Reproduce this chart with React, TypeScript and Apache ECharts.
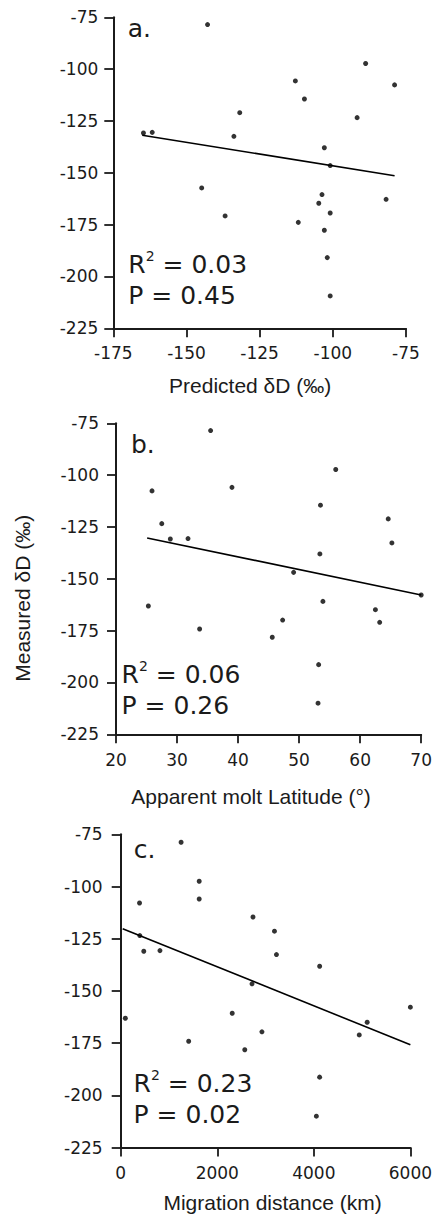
import React, { useEffect, useRef } from "react";
import * as echarts from "echarts";

// Panel a: predicted vs measured δD
const predictedDD = [-142.8, -88.8, -78.9, -112.8, -109.7, -131.8, -91.7, -164.7, -161.7, -133.8, -102.9, -100.9, -144.8, -103.7, -104.8, -81.8, -100.9, -136.8, -111.8, -102.9, -101.9, -100.9];
const measuredA = [-78.5, -97.3, -107.6, -105.7, -114.4, -121.0, -123.4, -130.8, -130.5, -132.4, -137.9, -146.5, -157.3, -160.5, -164.7, -162.8, -169.4, -170.8, -173.9, -177.7, -190.9, -209.4];
const fitA = [[-165.1, -131.9], [-78.9, -151.4]];

// Panel b: apparent molt latitude vs measured δD
const moltLatitude = [35.5, 56.0, 25.9, 39.0, 53.5, 64.6, 27.5, 28.9, 31.8, 65.2, 53.4, 49.1, 70.0, 25.3, 53.9, 62.5, 63.2, 47.3, 33.7, 45.6, 53.2, 53.1];
const measuredB = [-78.5, -97.3, -107.6, -105.9, -114.5, -121.1, -123.4, -130.8, -130.6, -132.7, -138.0, -146.9, -157.8, -163.1, -160.9, -164.9, -171.0, -169.9, -174.2, -178.2, -191.4, -210.0];
const fitB = [[25.1, -130.3], [70.0, -157.8]];

// Panel c: migration distance vs measured δD
const migrationKm = [1251, 1626, 1626, 390, 2740, 3185, 396, 478, 813, 3226, 4121, 2720, 6000, 96, 2310, 5105, 4941, 2925, 1408, 2570, 4121, 4053];
const measuredC = [-78.8, -97.5, -106.0, -107.9, -114.6, -121.4, -123.5, -131.0, -130.7, -132.6, -138.2, -146.6, -157.8, -163.1, -160.7, -165.0, -171.1, -169.6, -174.1, -178.2, -191.3, -210.0];
const fitC = [[41, -120.2], [6000, -175.8]];

const panelLetters = ["a.", "b.", "c."];
const r2Values = ["0.03", "0.06", "0.23"];
const pValues = ["0.45", "0.26", "0.02"];
const xNames = ["Predicted δD (‰)", "Apparent molt Latitude (°)", "Migration distance (km)"];
const yName = "Measured δD (‰)";
const xRanges = [[-175, -75, 25], [20, 70, 10], [0, 6000, 2000]];
const yRange = [-225, -75, 25];

const INK = "#1b1b1b";
const TICK_FONT = "DejaVu Sans";
const NAME_FONT = "Liberation Sans";

export default function App() {
  const ref = useRef<HTMLDivElement>(null);

  useEffect(() => {
    if (!ref.current) return;
    const chart = echarts.init(ref.current, null, { renderer: "svg" });

    const grids = [
      { left: 113.3, top: 17.3, width: 292.7, height: 311 },
      { left: 116, top: 423.3, width: 307.3, height: 311 },
      { left: 120.7, top: 834.3, width: 292.7, height: 313.4 },
    ];
    const xNameGap = [46.6, 51.2, 44.5];
    const xNamePad = [[0, 19, 0, 0], [0, 35, 0, 0], [0, 0, 0, 14]];
    const yLabelPad = [[4, 0, 0, 0], [0, 0, 0, 0], [5, 0, 0, 0]];
    const yLabelMargin = [15, 17, 18];
    const xLabelMargin = [16.5, 17.5, 16.5];

    const axisLine = { show: true, onZero: false, lineStyle: { color: INK, width: 2 } };
    const axisTick = { show: true, length: 9, lineStyle: { color: INK, width: 1.8 } };

    const xAxis = grids.map((_, i) => ({
      type: "value",
      gridIndex: i,
      min: xRanges[i][0],
      max: xRanges[i][1],
      interval: xRanges[i][2],
      axisLine,
      axisTick,
      splitLine: { show: false },
      axisLabel: {
        color: INK,
        fontFamily: TICK_FONT,
        fontSize: 17,
        margin: xLabelMargin[i],
        formatter: (v: number) => String(v),
      },
      name: xNames[i],
      nameLocation: "middle",
      nameGap: xNameGap[i],
      nameTextStyle: {
        color: INK,
        fontFamily: NAME_FONT,
        fontSize: 21,
        padding: xNamePad[i],
      },
    }));

    const yAxis = grids.map((_, i) => ({
      type: "value",
      gridIndex: i,
      min: yRange[0],
      max: yRange[1],
      interval: yRange[2],
      axisLine,
      axisTick,
      splitLine: { show: false },
      axisLabel: {
        color: INK,
        fontFamily: TICK_FONT,
        fontSize: 17,
        margin: yLabelMargin[i],
        padding: yLabelPad[i],
        formatter: (v: number) => String(v),
      },
      ...(i === 1
        ? {
            name: yName,
            nameLocation: "middle",
            nameGap: 83.3,
            nameTextStyle: {
              color: INK,
              fontFamily: NAME_FONT,
              fontSize: 21,
              padding: [0, 39, 0, 0],
            },
          }
        : {}),
    }));

    const xs = [predictedDD, moltLatitude, migrationKm];
    const ys = [measuredA, measuredB, measuredC];
    const fits = [fitA, fitB, fitC];

    const series: any[] = [];
    for (let i = 0; i < 3; i++) {
      series.push({
        type: "scatter",
        xAxisIndex: i,
        yAxisIndex: i,
        symbol: "circle",
        symbolSize: 5,
        itemStyle: { color: "#000" },
        clip: false,
        data: xs[i].map((x, k) => [x, ys[i][k]]),
      });
      series.push({
        type: "line",
        xAxisIndex: i,
        yAxisIndex: i,
        symbol: "none",
        lineStyle: { color: "#000", width: 1.6 },
        clip: false,
        data: fits[i],
      });
    }

    const letterPos = [
      { x: 127.8, y: 28.6 },
      { x: 131, y: 444.6 },
      { x: 133.7, y: 849.6 },
    ];
    const statPos = [
      { x: 128.3, y: 248.5 },
      { x: 121.6, y: 659.1 },
      { x: 133.6, y: 1068.1 },
    ];

    const graphic: any[] = [];
    for (let i = 0; i < 3; i++) {
      graphic.push({
        type: "text",
        x: letterPos[i].x,
        y: letterPos[i].y,
        style: {
          text: panelLetters[i],
          fontFamily: TICK_FONT,
          fontSize: 25,
          fill: INK,
          align: "left",
          verticalAlign: "middle",
        },
      });
      graphic.push({
        type: "text",
        x: statPos[i].x,
        y: statPos[i].y,
        style: {
          text: `{m|R}{s|2}{m| = ${r2Values[i]}}\n{m|P = ${pValues[i]}}`,
          fontFamily: TICK_FONT,
          fontSize: 25,
          fill: INK,
          align: "left",
          verticalAlign: "top",
          rich: {
            m: { fontFamily: TICK_FONT, fontSize: 25, lineHeight: 31, fill: INK, verticalAlign: "middle" },
            s: { fontFamily: TICK_FONT, fontSize: 14, lineHeight: 18, fill: INK, verticalAlign: "top" },
          },
        },
      });
    }

    chart.setOption({
      animation: false,
      backgroundColor: "#ffffff",
      grid: grids.map((g) => ({ ...g, containLabel: false })),
      xAxis,
      yAxis,
      series,
      graphic,
    });

    return () => chart.dispose();
  }, []);

  return (
    <div
      ref={ref}
      style={{ position: "absolute", left: 0, top: 0, width: 435, height: 1214 }}
    />
  );
}
